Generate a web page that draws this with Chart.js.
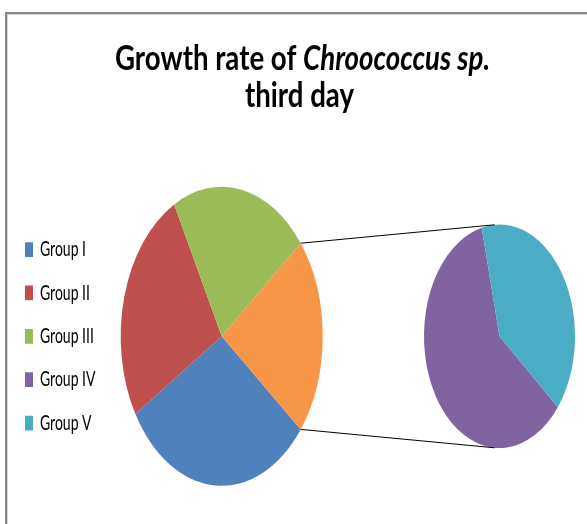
<!DOCTYPE html>
<html>
<head>
<meta charset="utf-8">
<script src="https://cdn.jsdelivr.net/npm/chart.js@4.4.1/dist/chart.umd.min.js"></script>
<style>
  html, body { margin: 0; padding: 0; background: #fff; }
  #wrap { position: relative; width: 587px; height: 524px; overflow: hidden; }
  #frame { position: absolute; left: 5px; top: 12px; width: 700px; height: 600px;
           border-top: 2px solid #868686; border-left: 2px solid #868686;
           box-shadow: inset 1px 1px 0 #d4d4d4; }
  canvas { position: absolute; left: 0; top: 0; }
</style>
</head>
<body>
<div id="wrap">
  <div id="frame"></div>
  <canvas id="mainPie" width="587" height="524"></canvas>
  <canvas id="subPie" width="587" height="524"></canvas>
</div>
<script>
// values (percent of total)
const groups = ['Group I', 'Group II', 'Group III', 'Group IV', 'Group V'];
const growth = [30.6, 25.9, 22.1, 12.9, 8.5];
const secondCount = 2; // last groups split into the second pie
const titleParts = ['Growth rate of ', 'Chroococcus sp.'];
const titleLine2 = 'third day';

const colors = ['#4F81BD', '#C0504D', '#9BBB59', '#8064A2', '#4BACC6'];
const otherColor = '#F79646';
const SY = 1.48; // the whole picture is stretched vertically

const firstCount = groups.length - secondCount;
const otherValue = growth.slice(firstCount).reduce((a, b) => a + b, 0);
const total = growth.reduce((a, b) => a + b, 0);
const firstLabels = groups.slice(0, firstCount).concat(['Other']);
const firstValues = growth.slice(0, firstCount).concat([otherValue]);
const firstColors = colors.slice(0, firstCount).concat([otherColor]);
// "Other" slice centred on 3 o'clock
const mainRotation = 90 + 180 * otherValue / total;

const stretch = {
  id: 'stretch',
  beforeDraw(chart) {
    const a = chart.chartArea;
    const cy = (a.top + a.bottom) / 2;
    // legend in the chart area may be laid out from y=0, shift it back
    const shift = chart.legend ? a.top - chart.legend.top : 0;
    const ctx = chart.ctx;
    ctx.save();
    ctx.translate(0, cy);
    ctx.scale(1, SY);
    ctx.translate(0, shift - cy);
  },
  beforeDatasetsDraw(chart) {
    const ctx = chart.ctx;
    ctx.restore();
    const arc = chart.getDatasetMeta(0).data[0];
    ctx.save();
    ctx.translate(arc.x, arc.y);
    ctx.scale(1, SY);
    ctx.translate(-arc.x, -arc.y);
  },
  afterDatasetsDraw(chart) {
    chart.ctx.restore();
  }
};

const titlePlugin = {
  id: 'pieTitle',
  afterDraw(chart) {
    const ctx = chart.ctx;
    const fPlain = 'bold 23px Lato';
    const fItal = 'italic bold 23px Lato';
    ctx.save();
    ctx.font = fPlain;
    const w1 = ctx.measureText(titleParts[0]).width;
    ctx.font = fItal;
    const w2 = ctx.measureText(titleParts[1]).width;
    const sx = 375 / (w1 + w2);
    ctx.fillStyle = '#000';
    ctx.textBaseline = 'alphabetic';
    ctx.translate(115, 69.5);
    ctx.scale(sx, SY);
    ctx.font = fPlain;
    ctx.fillText(titleParts[0], 0, 0);
    ctx.font = fItal;
    ctx.fillText(titleParts[1], w1, 0);
    ctx.restore();

    ctx.save();
    ctx.fillStyle = '#000';
    ctx.translate(299.5, 107);
    ctx.scale(sx, SY);
    ctx.textAlign = 'center';
    ctx.font = fPlain;
    ctx.fillText(titleLine2, 0, 0);
    ctx.restore();
  }
};

const mainChart = new Chart(document.getElementById('mainPie'), {
  type: 'pie',
  data: {
    labels: firstLabels,
    datasets: [{
      data: firstValues,
      backgroundColor: firstColors,
      borderWidth: 0,
      hoverOffset: 0,
      radius: 101
    }]
  },
  options: {
    responsive: false,
    animation: false,
    rotation: mainRotation,
    layout: { padding: { left: 9.7, right: 153.3, top: 196.3, bottom: 47.7 } },
    plugins: {
      tooltip: { enabled: false },
      legend: {
        position: 'chartArea',
        align: 'center',
        labels: {
          boxWidth: 8,
          boxHeight: 10,
          padding: 15.3,
          color: '#000',
          font: { family: 'Lato', size: 14 },
          generateLabels: () => groups.map((g, i) => ({
            text: g, fillStyle: colors[i], strokeStyle: colors[i],
            lineWidth: 0, hidden: false, index: i
          }))
        }
      }
    }
  },
  plugins: [stretch, titlePlugin]
});

const connectors = {
  id: 'connectors',
  afterDraw(chart) {
    const ctx = chart.ctx;
    const other = mainChart.getDatasetMeta(0).data[firstCount];
    const sub = chart.getDatasetMeta(0).data[0];
    const ra = sub.outerRadius, rb = sub.outerRadius * SY;
    const ends = [other.startAngle, other.endAngle].map(t => ({
      x: other.x + other.outerRadius * Math.cos(t),
      y: other.y + other.outerRadius * SY * Math.sin(t)
    }));
    ctx.save();
    ctx.strokeStyle = '#000';
    ctx.lineWidth = 1;
    ends.forEach((p, i) => {
      const u = (p.x - sub.x) / ra, v = (p.y - sub.y) / rb;
      const base = Math.atan2(v, u), off = Math.acos(1 / Math.hypot(u, v));
      const pts = [base + off, base - off].map(t => ({
        x: sub.x + ra * Math.cos(t), y: sub.y + rb * Math.sin(t)
      })).sort((m, n) => m.y - n.y);
      const q = i === 0 ? pts[0] : pts[1];
      ctx.beginPath();
      ctx.moveTo(p.x, p.y);
      ctx.lineTo(q.x, q.y);
      ctx.stroke();
    });
    ctx.restore();
  }
};

const subChart = new Chart(document.getElementById('subPie'), {
  type: 'pie',
  data: {
    labels: groups.slice(firstCount),
    datasets: [{
      data: growth.slice(firstCount),
      backgroundColor: colors.slice(firstCount),
      borderWidth: 0,
      hoverOffset: 0,
      radius: 75.5
    }]
  },
  options: {
    responsive: false,
    animation: false,
    rotation: 129.4,
    layout: { padding: { left: 419.5, right: 7.5, top: 236.3, bottom: 87.7 } },
    plugins: {
      tooltip: { enabled: false },
      legend: { display: false }
    }
  },
  plugins: [stretch, connectors]
});
</script>
</body>
</html>
